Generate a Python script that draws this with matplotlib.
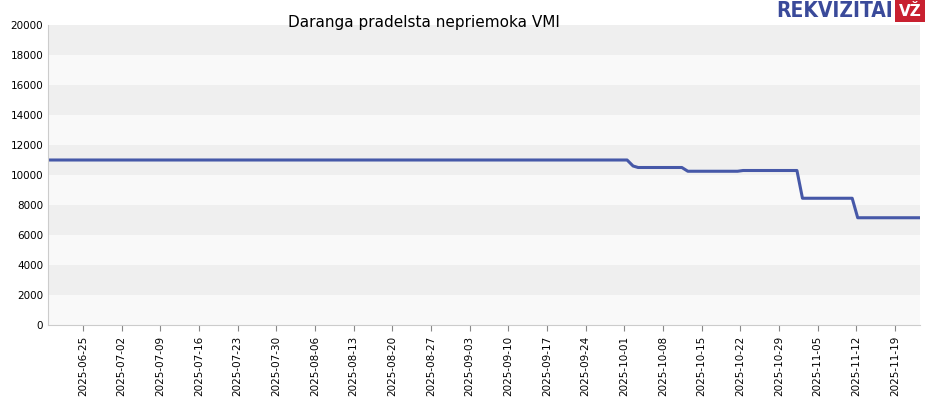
import matplotlib
matplotlib.use("Agg")
import matplotlib.pyplot as plt
import matplotlib.dates as mdates
import numpy as np
import pandas as pd

# Break points of the series
dates = ["2025-06-18 16:00", "2025-10-01 12:00", "2025-10-02 14:00", "2025-10-03 12:00",
         "2025-10-11 10:00", "2025-10-12 12:00", "2025-10-21 12:00", "2025-10-22 12:00",
         "2025-11-01 06:00", "2025-11-02 06:00", "2025-11-11 06:00", "2025-11-12 06:00",
         "2025-11-23 12:00"]
values = [11000, 11000, 10600, 10500,
          10500, 10250, 10250, 10300,
          10300, 8450, 8450, 7150,
          7150]

tick_dates = pd.date_range("2025-06-25", "2025-11-19", freq="7D")
title = "Daranga pradelsta nepriemoka VMI"

fig = plt.figure(figsize=(9.3, 4.0), dpi=100)
ax = fig.add_axes([48 / 930, 75 / 400, 872 / 930, 300 / 400])
x = pd.to_datetime(dates)
ax.plot(x, values, color="#4658a8", lw=2.2, solid_joinstyle="round")

ax.set_ylim(0, 20000)
ax.set_xlim(pd.Timestamp("2025-06-18 16:00"), pd.Timestamp("2025-11-23 12:40"))
ax.set_yticks(np.arange(0, 20001, 2000))
for i, lo in enumerate(range(0, 20000, 2000)):
    ax.axhspan(lo, lo + 2000, color="#f9f9f9" if i % 2 == 0 else "#efefef", zorder=0, lw=0)
ax.set_xticks(tick_dates)
ax.xaxis.set_major_formatter(mdates.DateFormatter("%Y-%m-%d"))
ax.tick_params(axis="x", rotation=90, labelsize=7.5, length=4, color="#888888")
ax.tick_params(axis="y", labelsize=7.5, length=0)
for s in ["top", "right"]:
    ax.spines[s].set_visible(False)
ax.spines["left"].set_color("#cccccc")
ax.spines["bottom"].set_color("#cccccc")

fig.text(288 / 930, 1 - 23 / 400, title, fontsize=11, ha="left", va="center")
fig.text(893 / 930, 1 - 11 / 400, "REKVIZITAI", fontsize=15, fontweight="bold",
         color="#3a4a9a", ha="right", va="center", family="DejaVu Sans", stretch="condensed")
fig.text(910 / 930, 1 - 11 / 400, "VŽ", fontsize=11, fontweight="bold", color="white",
         ha="center", va="center",
         bbox=dict(facecolor="#c8202f", edgecolor="none", pad=2.5))

fig.savefig("out.png", dpi=100)
